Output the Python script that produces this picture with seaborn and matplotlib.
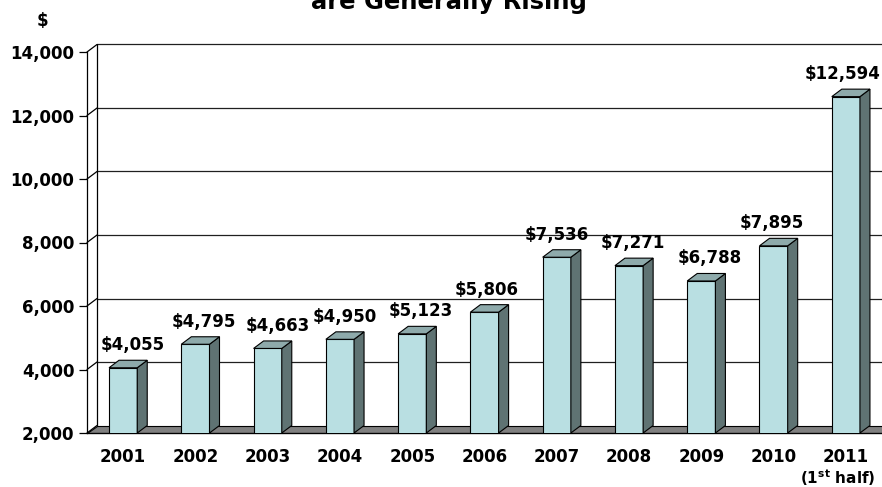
import numpy as np
import pandas as pd
import matplotlib
matplotlib.use("Agg")
import matplotlib.pyplot as plt
import seaborn as sns
from matplotlib.patches import Polygon

# ---------------- data ----------------
years = ["2001", "2002", "2003", "2004", "2005", "2006", "2007", "2008", "2009", "2010", "2011"]
values = [4055, 4795, 4663, 4950, 5123, 5806, 7536, 7271, 6788, 7895, 12594]
value_labels = ["$4,055", "$4,795", "$4,663", "$4,950", "$5,123", "$5,806",
                "$7,536", "$7,271", "$6,788", "$7,895", "$12,594"]
year_labels = ["2001", "2002", "2003", "2004", "2005", "2006", "2007", "2008",
               "2009", "2010", "2011"]
last_year_note = "(1$^{\\mathbf{st}}$ half)"
y_ticks = [2000, 4000, 6000, 8000, 10000, 12000, 14000]
y_tick_labels = ["2,000", "4,000", "6,000", "8,000", "10,000", "12,000", "14,000"]
title_text = "are Generally Rising"
unit_text = "$"

# label placement nudges (pixels, layout only)
label_dx_px = [10, 8, 10, 5, 9, 2, 0, 4, 8, -2, -3]

# ---------------- style ----------------
sns.set_style("white")
plt.rcParams["font.family"] = ["DejaVu Sans"]
plt.rcParams["font.weight"] = "bold"
plt.rcParams["mathtext.fontset"] = "dejavusans"
plt.rcParams["text.color"] = "black"
plt.rcParams["xtick.color"] = "black"
plt.rcParams["ytick.color"] = "black"
plt.rcParams["xtick.labelcolor"] = "black"
plt.rcParams["ytick.labelcolor"] = "black"

FACE = "#B9DFE2"
SIDE = "#5F7373"
TOP = "#8EAAAB"
FLOOR = "#808080"

W, H = 882, 487
fig = plt.figure(figsize=(W / 100, H / 100), dpi=100)
ax = fig.add_axes([87 / W, 54 / H, 795 / W, 381 / H])

df = pd.DataFrame({"year": years, "value": values})
sns.barplot(data=df, x="year", y="value", color=FACE, saturation=1, width=0.39,
            edgecolor="black", linewidth=0.8, ax=ax, zorder=4)

ymin, ymax = y_ticks[0], y_ticks[-1]
ax.set_xlim(-0.5, len(years) - 0.5)
ax.set_ylim(ymin, ymax)

# depth offsets (pixels -> data)
px_x = 795 / len(years)
px_y = 381 / (ymax - ymin)
dx = 10 / px_x
dy = 7.5 / px_y
xl, xr = -0.5, len(years) - 0.5

# back wall + gridlines
for t in y_ticks:
    ax.plot([xl, xl + dx], [t, t + dy], color="black", lw=0.9, clip_on=False, zorder=1)
    if t > ymin:
        ax.plot([xl + dx, xr + dx], [t + dy, t + dy], color="#202020", lw=0.9,
                clip_on=False, zorder=1)
ax.plot([xl + dx, xl + dx], [ymin + dy, ymax + dy], color="black", lw=0.9,
        clip_on=False, zorder=1)

# floor
floor = Polygon([(xl, ymin), (xr + dx, ymin), (xr + dx, ymin + dy), (xl + dx, ymin + dy)],
                closed=True, facecolor=FLOOR, edgecolor="black", lw=0.8,
                clip_on=False, zorder=2)
ax.add_patch(floor)

# 3D sides, tops and labels
for p, lab, ox in zip(ax.patches[:len(values)], value_labels, label_dx_px):
    x0 = p.get_x()
    x1 = x0 + p.get_width()
    h = p.get_height()
    side = Polygon([(x1, ymin), (x1, h), (x1 + dx, h + dy), (x1 + dx, ymin + dy)],
                   closed=True, facecolor=SIDE, edgecolor="black", lw=0.8,
                   clip_on=False, zorder=4)
    top = Polygon([(x0, h), (x1, h), (x1 + dx, h + dy), (x0 + dx, h + dy)],
                  closed=True, facecolor=TOP, edgecolor="black", lw=0.8,
                  clip_on=False, zorder=4)
    ax.add_patch(side)
    ax.add_patch(top)
    ax.annotate(lab, xy=((x0 + x1) / 2, h + dy), xytext=(ox, 10),
                textcoords="offset pixels", ha="center", va="baseline",
                fontsize=12, fontweight="bold", color="black", zorder=5)

# axes decoration
for s in ["top", "right"]:
    ax.spines[s].set_visible(False)
for s in ["left", "bottom"]:
    ax.spines[s].set_color("black")
    ax.spines[s].set_linewidth(0.9)
    ax.spines[s].set_zorder(3)

ax.set_xticks(range(len(years)))
ax.set_xticklabels(year_labels, fontsize=12, fontweight="bold")
ax.set_xticks(np.arange(-0.5, len(years) - 0.5, 1), minor=True)
ax.tick_params(axis="x", which="major", length=0, pad=11)
ax.tick_params(axis="x", which="minor", length=5, width=0.9, direction="out", color="black")
ax.set_yticks(y_ticks)
ax.set_yticklabels(y_tick_labels, fontsize=12, fontweight="bold")
ax.tick_params(axis="y", length=6, width=0.9, direction="out", color="black", pad=3, left=True)
ax.set_xlabel("")
ax.set_ylabel("")

ax.annotate(last_year_note, xy=(len(years) - 1, 0), xycoords=("data", "axes fraction"),
            xytext=(-8, -45), textcoords="offset pixels", ha="center", va="center",
            fontsize=11, fontweight="bold", color="black", annotation_clip=False)

fig.text(42 / W, 1 - 21 / H, unit_text, ha="center", va="center",
         fontsize=12, fontweight="bold")
fig.text(449 / W, 1 - 9 / H, title_text, ha="center", va="baseline",
         fontsize=17.5, fontweight="bold")

fig.savefig("out.png", dpi=100)
